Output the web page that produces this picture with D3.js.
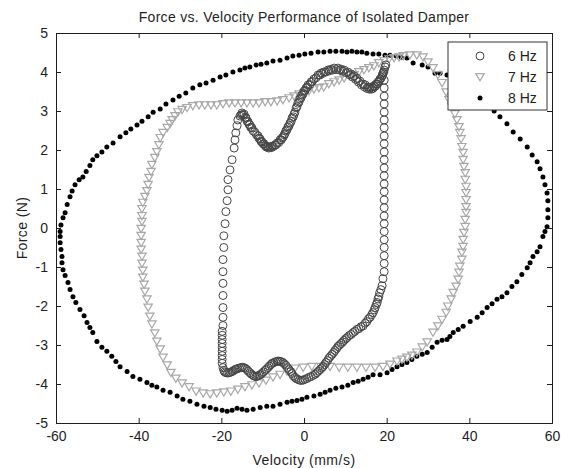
<!DOCTYPE html>
<html>
<head>
<meta charset="utf-8">
<script src="https://cdn.jsdelivr.net/npm/d3@7"></script>
<style>
  html, body { margin: 0; padding: 0; background: #fff; }
  svg { display: block; font-family: "Liberation Sans", Arial, sans-serif; }
</style>
</head>
<body>
<svg id="chart" width="564" height="468"></svg>
<script>
// Force–velocity loops of the isolated damper at three drive frequencies.
const xTicks = [-60, -40, -20, 0, 20, 40, 60];
const yTicks = [-5, -4, -3, -2, -1, 0, 1, 2, 3, 4, 5];
const seriesLabels = ["6 Hz", "7 Hz", "8 Hz"];

// 6 Hz (velocity mm/s, force N): first cycle, then the second cycle on the curved parts
const hz6X = [-18.4,-18.4,-17.9,-17.4,-16.9,-16.7,-16.5,-16.2,-16.0,-15.5,-15.0,-14.5,-14.0,-13.5,-13.1,-12.6,-11.9,-11.1,-10.6,-10.2,-9.7,-9.2,-8.7,-8.2,-7.7,-7.0,-6.5,-5.8,-5.3,-4.8,-4.4,-3.9,-3.4,-2.9,-2.4,-1.9,-1.5,-1.0,-0.5,0,0.5,1.0,1.7,2.4,3.4,4.1,4.8,5.8,6.5,7.3,8.2,9.0,9.7,10.6,11.4,12.1,12.8,13.5,14.3,14.8,15.5,16.0,16.5,16.9,17.4,17.9,18.4,18.9,19.1,19.4,19.6,19.8,
  19.4,19.4,19.4,19.4,19.4,19.4,19.4,19.4,19.4,19.4,19.4,19.4,19.4,19.4,19.4,19.4,19.4,19.4,19.4,19.4,19.4,19.4,19.4,19.4,19.4,19.1,
  18.9,18.6,18.1,17.7,17.2,16.7,16.0,15.2,14.3,13.3,12.3,11.4,10.4,9.7,9.0,8.2,7.5,6.8,6.0,5.3,4.6,3.9,3.1,2.2,1.2,0.2,-0.7,-1.5,-2.2,-2.9,-3.6,-4.4,-5.1,-5.8,-6.5,-7.3,-8.0,-8.7,-9.4,-10.2,-10.9,-11.6,-12.3,-13.1,-13.8,-14.5,-15.2,-16.0,-16.7,-17.4,-18.1,-18.9,-19.4,-19.6,
  -19.8,-19.8,-19.8,-19.8,-19.8,-19.8,-19.8,-19.8,-19.8,-19.6,-19.6,-19.6,-19.6,-19.6,-19.6,-19.6,-19.4,-19.4,-19.1,-18.9,-18.6,
  -15.2,-14.8,-14.2,-13.8,-13.3,-12.9,-12.3,-11.5,-10.9,-10.4,-9.9,-9.4,-9.0,-8.5,-7.9,-7.4,-6.8,-6.1,-5.5,-5.0,-4.6,-4.1,-3.6,-3.1,-2.6,-2.2,-1.7,-1.2,-0.7,-0.2,0.3,0.8,1.4,2.0,2.9,3.8,4.5,5.3,6.1,6.9,7.8,8.6,9.4,10.2,11.0,11.8,12.5,13.2,13.9,14.6,15.2,15.8,16.3,16.7,17.2,17.7,18.2,18.7,19.0,19.3,
  18.3,17.9,17.5,17.0,16.4,15.6,14.8,13.8,12.8,11.9,10.9,10.1,9.4,8.6,7.9,7.2,6.4,5.7,5.0,4.3,3.5,2.7,1.7,0.7,-0.2,-1.1,-1.9,-2.6,-3.2,-4.0,-4.8,-5.5,-6.2,-6.9,-7.7,-8.4,-9.1,-9.8,-10.6,-11.3,-12.0,-12.7,-13.5,-14.2,-14.9,-15.6,-16.4,-17.1,-17.8,-18.5,-19.2];
const hz6Y = [0.98,1.24,1.49,1.75,2.05,2.26,2.44,2.62,2.77,2.87,2.95,2.92,2.82,2.72,2.64,2.57,2.46,2.36,2.28,2.21,2.16,2.10,2.08,2.08,2.10,2.13,2.18,2.26,2.31,2.39,2.49,2.59,2.69,2.82,2.92,3.08,3.20,3.31,3.41,3.51,3.59,3.67,3.74,3.82,3.92,3.97,4.00,4.05,4.07,4.10,4.10,4.07,4.05,4.00,3.95,3.90,3.84,3.77,3.69,3.67,3.61,3.61,3.61,3.64,3.69,3.74,3.82,3.90,3.97,4.05,4.13,4.18,
  3.79,3.59,3.38,3.18,2.97,2.77,2.57,2.36,2.16,1.95,1.75,1.54,1.34,1.13,0.93,0.72,0.52,0.31,0.11,-0.09,-0.30,-0.50,-0.71,-0.91,-1.12,-1.30,
  -1.48,-1.58,-1.76,-1.91,-2.04,-2.17,-2.29,-2.40,-2.51,-2.58,-2.65,-2.73,-2.81,-2.88,-2.96,-3.04,-3.14,-3.24,-3.34,-3.45,-3.55,-3.63,-3.71,-3.78,-3.83,-3.88,-3.91,-3.88,-3.83,-3.73,-3.63,-3.52,-3.45,-3.42,-3.42,-3.45,-3.50,-3.58,-3.65,-3.73,-3.78,-3.81,-3.78,-3.71,-3.63,-3.58,-3.58,-3.60,-3.63,-3.68,-3.71,-3.71,-3.65,-3.58,
  -3.47,-3.37,-3.27,-3.16,-3.06,-2.96,-2.86,-2.75,-2.65,-2.50,-2.29,-2.04,-1.73,-1.42,-1.12,-0.81,-0.50,-0.20,0.11,0.42,0.70,
  2.90,2.90,2.84,2.74,2.66,2.58,2.49,2.39,2.30,2.22,2.16,2.11,2.07,2.05,2.06,2.09,2.13,2.19,2.26,2.34,2.42,2.52,2.62,2.73,2.85,2.97,3.11,3.23,3.34,3.44,3.53,3.61,3.68,3.76,3.85,3.92,3.96,4.00,4.03,4.05,4.06,4.05,4.02,3.98,3.93,3.87,3.81,3.74,3.67,3.62,3.58,3.56,3.56,3.58,3.63,3.69,3.77,3.85,3.93,4.00,
  -1.66,-1.82,-1.96,-2.10,-2.22,-2.33,-2.44,-2.53,-2.60,-2.68,-2.76,-2.84,-2.92,-3.00,-3.09,-3.19,-3.29,-3.40,-3.50,-3.59,-3.67,-3.75,-3.81,-3.86,-3.90,-3.90,-3.86,-3.79,-3.68,-3.58,-3.48,-3.43,-3.41,-3.43,-3.47,-3.54,-3.62,-3.69,-3.76,-3.80,-3.80,-3.75,-3.67,-3.60,-3.57,-3.59,-3.62,-3.66,-3.70,-3.72,-3.69];

// 7 Hz
const hz7X = [-2.2,-4.1,-5.8,-7.5,-9.2,-10.9,-12.6,-14.3,-16.0,-17.7,-19.4,-21.1,-22.7,-24.4,-26.1,-27.8,-29.5,-31.0,-32.2,-33.1,-34.1,-34.8,-35.6,-36.1,-36.8,-37.3,-37.7,-38.0,-38.5,-38.7,-39.0,-39.0,-39.2,-39.2,-39.4,-39.4,-39.4,-39.4,-39.2,-39.2,-39.2,-39.0,-38.5,-38.0,-37.7,-37.5,-37.0,-36.8,-36.1,-35.6,-35.1,-34.8,-34.1,-33.1,-32.4,-31.9,-31.2,-30.5,-29.5,-28.3,-26.9,-25.4,-24.0,-22.5,-21.1,-19.6,-18.1,-16.7,-15.2,-13.8,-12.3,-10.9,-9.4,-8.0,-6.5,-5.1,-3.6,-2.4,-1.2,0,1.2,2.4,3.6,4.8,6.0,7.3,8.5,9.7,10.9,12.1,13.3,14.5,15.7,16.9,18.1,19.4,20.6,21.8,23.0,24.0,25.6,27.3,28.8,30.0,31.2,32.4,33.4,34.4,35.1,35.8,36.5,37.0,37.5,37.7,38.0,38.2,38.5,38.5,38.7,39.0,39.0,39.2,39.2,39.2,39.2,39.2,39.0,39.0,38.7,38.5,38.5,38.2,38.2,37.7,37.5,37.3,36.8,36.1,35.6,34.8,34.4,33.4,32.4,31.2,29.8,28.6,27.3,26.1,24.9,23.7,22.5,20.8,19.1,17.2,15.0,12.8,10.6,8.5,6.3,4.1,1.9,-0.2];
const hz7Y = [-3.60,-3.68,-3.76,-3.83,-3.91,-3.98,-4.03,-4.08,-4.14,-4.19,-4.21,-4.24,-4.26,-4.24,-4.19,-4.08,-3.98,-3.86,-3.71,-3.52,-3.32,-3.11,-2.91,-2.70,-2.47,-2.27,-2.04,-1.83,-1.63,-1.45,-1.27,-1.09,-0.91,-0.73,-0.55,-0.38,-0.20,-0.02,0.16,0.31,0.49,0.65,0.80,0.95,1.11,1.29,1.44,1.62,1.80,1.95,2.13,2.31,2.44,2.57,2.67,2.77,2.87,2.97,3.03,3.08,3.13,3.15,3.15,3.15,3.15,3.18,3.20,3.20,3.20,3.20,3.20,3.20,3.23,3.23,3.25,3.28,3.33,3.38,3.43,3.46,3.51,3.56,3.59,3.61,3.69,3.74,3.79,3.84,3.90,3.92,4.00,4.05,4.10,4.15,4.23,4.28,4.33,4.36,4.38,4.41,4.43,4.43,4.38,4.25,4.10,3.92,3.72,3.48,3.28,3.10,2.92,2.77,2.59,2.44,2.28,2.08,1.93,1.75,1.57,1.41,1.24,1.06,0.90,0.72,0.54,0.39,0.21,0.03,-0.12,-0.30,-0.48,-0.63,-0.81,-0.99,-1.14,-1.32,-1.50,-1.66,-1.83,-2.01,-2.17,-2.35,-2.52,-2.68,-2.93,-3.06,-3.19,-3.27,-3.32,-3.37,-3.42,-3.50,-3.56,-3.58,-3.58,-3.58,-3.58,-3.58,-3.56,-3.56,-3.56,-3.58];

// 8 Hz
const hz8X = [-59.0,-58.8,-58.3,-57.8,-57.3,-56.6,-56.1,-55.4,-54.4,-53.5,-52.7,-51.8,-51.1,-50.1,-48.9,-47.7,-46.2,-44.5,-43.1,-41.9,-40.4,-39.2,-37.7,-36.5,-34.8,-33.4,-31.7,-30.2,-28.6,-26.9,-25.2,-23.7,-22.0,-20.3,-18.9,-17.2,-15.5,-14.3,-13.1,-11.6,-10.4,-9.0,-7.5,-5.8,-4.1,-2.7,-1.2,0.2,1.7,3.4,4.8,6.3,7.7,9.2,10.4,11.6,12.8,14.0,15.2,16.7,18.1,19.6,20.8,22.3,23.5,24.9,26.4,28.6,30.0,31.7,32.9,34.6,36.1,37.7,39.4,41.1,42.8,44.5,46.0,
  47.4,49.1,50.6,52.3,54.0,55.2,56.4,57.1,57.8,58.3,58.8,59.0,59.0,59.0,58.8,58.3,57.8,57.1,56.4,55.4,54.7,54.0,52.7,51.5,50.3,49.1,47.9,46.7,45.5,44.3,43.1,41.9,40.2,38.5,37.3,36.1,35.3,34.6,33.4,32.2,31.0,29.8,28.6,27.3,26.1,24.9,23.7,22.5,21.3,20.1,
  18.4,16.7,15.5,14.3,13.1,11.9,10.6,9.2,7.7,6.3,5.1,3.9,2.4,0.7,-0.5,-1.7,-2.9,-4.1,-5.8,-7.5,-9.0,-10.6,-12.3,-13.8,-15.0,-16.2,-17.4,-18.6,-19.8,-21.3,-22.7,-24.2,-25.9,-27.6,-29.3,-30.7,-32.4,-34.1,-35.6,-36.8,-38.0,-39.7,-41.4,-42.8,-44.5,-45.5,-46.5,-47.7,-48.9,-50.1,-51.1,-51.8,-52.5,-53.2,-54.2,-55.2,-55.9,-56.6,-57.1,-57.8,-58.3,-58.55,-58.55,-58.8,-59.0,-59.0];
const hz8Y = [-0.09,0.08,0.26,0.39,0.60,0.80,0.95,1.11,1.24,1.31,1.45,1.60,1.75,1.85,1.95,2.08,2.18,2.34,2.44,2.54,2.64,2.74,2.85,2.97,3.05,3.18,3.28,3.38,3.46,3.59,3.67,3.72,3.79,3.87,3.92,4.00,4.05,4.10,4.13,4.18,4.20,4.23,4.28,4.30,4.36,4.41,4.43,4.46,4.48,4.51,4.51,4.53,4.53,4.53,4.51,4.53,4.51,4.51,4.48,4.46,4.46,4.43,4.43,4.41,4.38,4.36,4.23,4.18,4.13,3.97,3.97,3.92,3.85,3.72,3.59,3.43,3.28,3.15,3.00,
  2.85,2.67,2.46,2.28,2.08,1.87,1.70,1.52,1.31,1.11,0.90,0.70,0.47,0.26,0.03,-0.09,-0.22,-0.48,-0.61,-0.73,-0.89,-1.02,-1.19,-1.38,-1.50,-1.66,-1.76,-1.83,-1.94,-2.04,-2.17,-2.29,-2.40,-2.52,-2.60,-2.68,-2.78,-2.86,-2.88,-2.93,-3.06,-3.19,-3.24,-3.29,-3.37,-3.45,-3.50,-3.56,-3.63,-3.71,
  -3.76,-3.76,-3.83,-3.88,-3.93,-3.96,-4.03,-4.08,-4.11,-4.16,-4.21,-4.26,-4.31,-4.34,-4.39,-4.42,-4.44,-4.47,-4.52,-4.57,-4.57,-4.60,-4.65,-4.67,-4.65,-4.62,-4.67,-4.70,-4.67,-4.65,-4.60,-4.57,-4.52,-4.44,-4.39,-4.31,-4.21,-4.16,-4.08,-4.03,-3.96,-3.88,-3.81,-3.68,-3.56,-3.42,-3.29,-3.16,-3.06,-2.91,-2.68,-2.55,-2.42,-2.25,-2.09,-1.91,-1.76,-1.58,-1.40,-1.22,-1.07,-0.89,-0.73,-0.55,-0.38,-0.22];

const W = 564, H = 468;
const margin = { left: 56, right: 12, top: 33, bottom: 45 };
const svg = d3.select("#chart");
const font = "Liberation Sans, Arial, sans-serif";
const ink = "#1e1e1e";

const x = d3.scaleLinear().domain([-60, 60]).range([margin.left, W - margin.right]);
const y = d3.scaleLinear().domain([-5, 5]).range([H - margin.bottom, margin.top]);

const plot = svg.append("g");

// 8 Hz: small black dots
plot.append("g").selectAll("circle")
  .data(d3.zip(hz8X, hz8Y)).join("circle")
  .attr("cx", d => x(d[0])).attr("cy", d => y(d[1]))
  .attr("r", 2.5).attr("fill", "#000");

// 7 Hz: open downward triangles
const tri = "M-4.2,-3.4L4.2,-3.4L0,3.8Z";
plot.append("g").selectAll("path")
  .data(d3.zip(hz7X, hz7Y)).join("path")
  .attr("d", tri)
  .attr("transform", d => `translate(${x(d[0])},${y(d[1])})`)
  .attr("fill", "none").attr("stroke", "#a8a8a8").attr("stroke-width", 1.2);

// 6 Hz: open circles
plot.append("g").selectAll("circle")
  .data(d3.zip(hz6X, hz6Y)).join("circle")
  .attr("cx", d => x(d[0])).attr("cy", d => y(d[1]))
  .attr("r", 4).attr("fill", "none").attr("stroke", "#454545").attr("stroke-width", 1);

// Axes: inward ticks on all four sides, plain hyphen minus signs
const tl = 5;
const fmt = d => String(d);
const gx = svg.append("g").attr("transform", `translate(0,${y(-5)})`)
  .call(d3.axisBottom(x).tickValues(xTicks).tickFormat(fmt).tickSize(-tl).tickPadding(8));
const gxt = svg.append("g").attr("transform", `translate(0,${y(5)})`)
  .call(d3.axisTop(x).tickValues(xTicks).tickFormat("").tickSize(-tl));
const gy = svg.append("g").attr("transform", `translate(${x(-60)},0)`)
  .call(d3.axisLeft(y).tickValues(yTicks).tickFormat(fmt).tickSize(-tl).tickPadding(8));
const gyr = svg.append("g").attr("transform", `translate(${x(60)},0)`)
  .call(d3.axisRight(y).tickValues(yTicks).tickFormat("").tickSize(-tl));
[gx, gxt, gy, gyr].forEach(g => {
  g.select(".domain").attr("stroke", ink).attr("stroke-width", 1);
  g.selectAll(".tick line").attr("stroke", ink);
  g.selectAll("text").attr("fill", ink).attr("font-size", 14).attr("font-family", font);
});

// Titles
svg.append("text").attr("x", x(0)).attr("y", 22).attr("text-anchor", "middle")
  .attr("font-size", 14).attr("letter-spacing", 0.3).attr("fill", ink)
  .text("Force vs. Velocity Performance of Isolated Damper");
svg.append("text").attr("x", x(0)).attr("y", 465).attr("text-anchor", "middle")
  .attr("font-size", 14).attr("letter-spacing", 0.5).attr("fill", ink).text("Velocity (mm/s)");
svg.append("text").attr("transform", `translate(27,${y(0)}) rotate(-90)`).attr("text-anchor", "middle")
  .attr("font-size", 14).attr("letter-spacing", 0.4).attr("fill", ink).text("Force (N)");

// Legend (opaque box, upper right)
const lg = svg.append("g").attr("transform", "translate(448,42)");
lg.append("rect").attr("width", 99).attr("height", 68)
  .attr("fill", "#fff").attr("stroke", "#333").attr("stroke-width", 1);
const rows = [14, 35, 56];
lg.append("circle").attr("cx", 32).attr("cy", rows[0]).attr("r", 4)
  .attr("fill", "none").attr("stroke", "#454545");
lg.append("path").attr("d", tri).attr("transform", `translate(32,${rows[1]})`)
  .attr("fill", "none").attr("stroke", "#a8a8a8").attr("stroke-width", 1.2);
lg.append("circle").attr("cx", 32).attr("cy", rows[2]).attr("r", 2.5).attr("fill", "#000");
lg.selectAll("text.lbl").data(seriesLabels).join("text").attr("class", "lbl")
  .attr("x", 60).attr("y", (d, i) => rows[i] + 5)
  .attr("font-size", 14).attr("fill", ink).text(d => d);
</script>
</body>
</html>
